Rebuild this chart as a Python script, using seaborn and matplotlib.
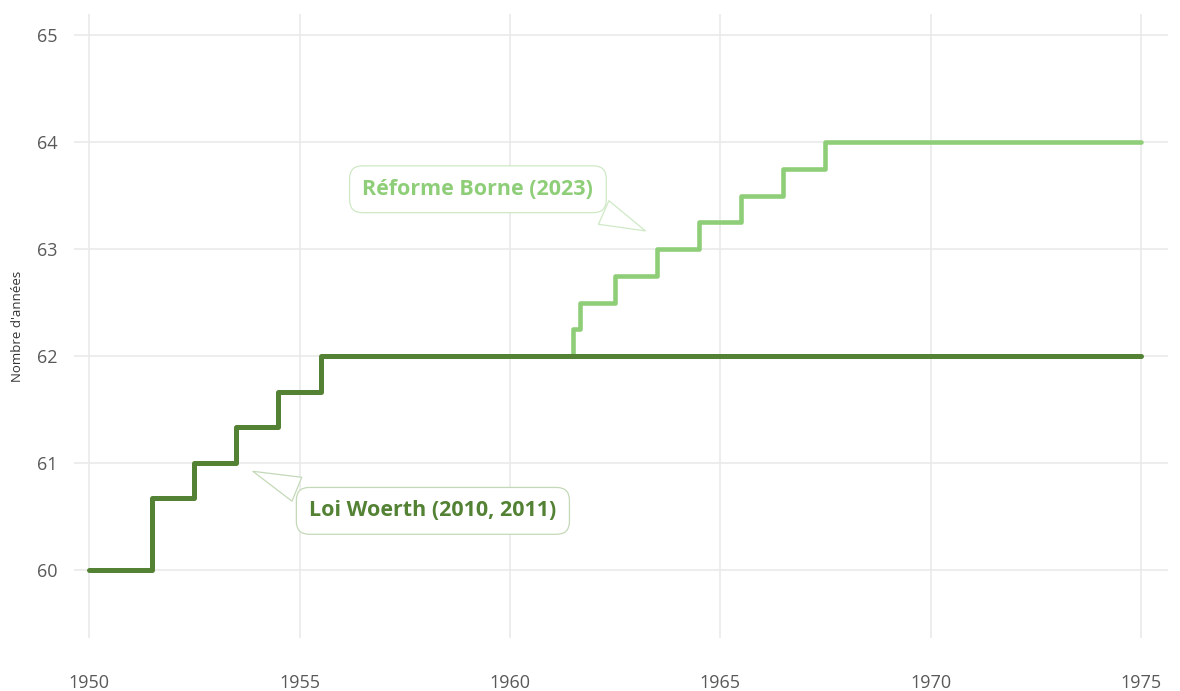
import matplotlib
matplotlib.use("Agg")
import matplotlib.pyplot as plt
import seaborn as sns
import pandas as pd

# Data
woerth_years = [1950, 1951.5, 1952.5, 1953.5, 1954.5, 1955.5, 1975]
woerth_age = [60, 60.667, 61, 61.333, 61.667, 62, 62]
borne_years = [1961.5, 1961.5, 1961.67, 1962.5, 1963.5, 1964.5, 1965.5, 1966.5, 1967.5, 1975]
borne_age = [62, 62.25, 62.5, 62.75, 63, 63.25, 63.5, 63.75, 64, 64]
x_ticks = [1950, 1955, 1960, 1965, 1970, 1975]
y_ticks = [60, 61, 62, 63, 64, 65]
label_woerth = "Loi Woerth (2010, 2011)"
label_borne = "Réforme Borne (2023)"
y_label = "Nombre d'années"

dark = "#548235"
light = "#8fce78"
grey = "#595959"

sns.set_theme(style="whitegrid")
plt.rcParams["font.family"] = ["Open Sans", "DejaVu Sans"]

fig = plt.figure(figsize=(11.8, 6.91), dpi=100)
ax = fig.add_axes([0.0627, 0.0767, 0.9271, 0.903])

df_b = pd.DataFrame({"x": borne_years, "y": borne_age})
df_w = pd.DataFrame({"x": woerth_years, "y": woerth_age})
sns.lineplot(data=df_b, x="x", y="y", ax=ax, color=light, linewidth=3.3,
             drawstyle="steps-post", estimator=None, sort=False)
sns.lineplot(data=df_w, x="x", y="y", ax=ax, color=dark, linewidth=3.6,
             drawstyle="steps-post", estimator=None, sort=False)

ax.set_xlim(1949.64, 1975.64)
ax.set_ylim(59.36, 65.2)
ax.set_xticks(x_ticks)
ax.set_yticks(y_ticks)
ax.set_xticklabels([str(v) for v in x_ticks])
ax.set_yticklabels([str(v) for v in y_ticks])
ax.tick_params(axis="both", colors=grey, labelsize=13, length=0)
ax.tick_params(axis="x", pad=26)
ax.tick_params(axis="y", pad=12)
ax.grid(True, color="#e8e8e8", linewidth=1.1)
for s in ax.spines.values():
    s.set_visible(False)
ax.set_xlabel("")
ax.set_ylabel(y_label, fontsize=9.5, color="#333333")
ax.yaxis.set_label_coords(-0.046, 0.5)

ax.annotate(label_borne, xy=(1963.28, 63.16), xytext=(1959.24, 63.56),
            textcoords="data", ha="center", va="center",
            fontsize=15.5, fontweight="bold", color=light,
            bbox=dict(boxstyle="round,pad=0.6,rounding_size=0.6", fc="white",
                      ec="#cfe9c5", lw=0.9),
            arrowprops=dict(arrowstyle="wedge,tail_width=1.2,shrink_factor=0.5",
                            relpos=(0.92, 0.0),
                            fc="white", ec="#cfe9c5", lw=0.9))
ax.annotate(label_woerth, xy=(1953.83, 60.93), xytext=(1958.17, 60.55),
            textcoords="data", ha="center", va="center",
            fontsize=15.5, fontweight="bold", color=dark,
            bbox=dict(boxstyle="round,pad=0.6,rounding_size=0.6", fc="white",
                      ec="#c4d9b8", lw=0.9),
            arrowprops=dict(arrowstyle="wedge,tail_width=1.2,shrink_factor=0.5",
                            relpos=(0.06, 1.0),
                            fc="white", ec="#c4d9b8", lw=0.9))

fig.savefig("out.png", dpi=100)
